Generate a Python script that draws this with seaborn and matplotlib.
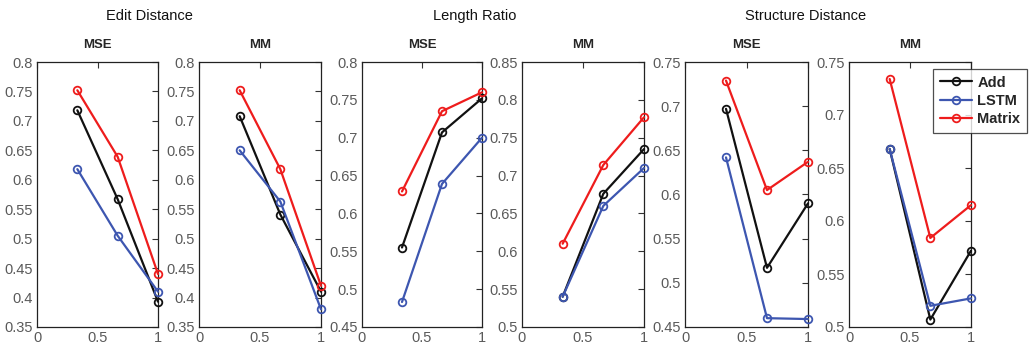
import numpy as np
import pandas as pd
import matplotlib
matplotlib.use("Agg")
import matplotlib.pyplot as plt
import seaborn as sns

# ---- data ----
x_vals = [1/3, 2/3, 1.0]
methods = ["Add", "LSTM", "Matrix"]
group_titles = ["Edit Distance", "Length Ratio", "Structure Distance"]
panel_titles = ["MSE", "MM"]

edit_mse_add = [0.718, 0.567, 0.393]
edit_mse_lstm = [0.618, 0.505, 0.410]
edit_mse_matrix = [0.752, 0.639, 0.440]

edit_mm_add = [0.708, 0.541, 0.410]
edit_mm_lstm = [0.650, 0.563, 0.380]
edit_mm_matrix = [0.752, 0.618, 0.420]

len_mse_add = [0.555, 0.707, 0.752]
len_mse_lstm = [0.483, 0.639, 0.700]
len_mse_matrix = [0.629, 0.735, 0.760]

len_mm_add = [0.540, 0.676, 0.735]
len_mm_lstm = [0.540, 0.660, 0.710]
len_mm_matrix = [0.610, 0.714, 0.777]

str_mse_add = [0.697, 0.517, 0.590]
str_mse_lstm = [0.642, 0.460, 0.459]
str_mse_matrix = [0.729, 0.605, 0.637]

str_mm_add = [0.668, 0.507, 0.572]
str_mm_lstm = [0.668, 0.520, 0.527]
str_mm_matrix = [0.734, 0.584, 0.615]

panels = [
    (edit_mse_add, edit_mse_lstm, edit_mse_matrix),
    (edit_mm_add, edit_mm_lstm, edit_mm_matrix),
    (len_mse_add, len_mse_lstm, len_mse_matrix),
    (len_mm_add, len_mm_lstm, len_mm_matrix),
    (str_mse_add, str_mse_lstm, str_mse_matrix),
    (str_mm_add, str_mm_lstm, str_mm_matrix),
]
ylims = [(0.35, 0.8), (0.35, 0.8), (0.45, 0.8), (0.5, 0.85), (0.45, 0.75), (0.5, 0.75)]
x_ticks = [0, 0.5, 1]
x_tick_labels = ["0", "0.5", "1"]

# ---- style ----
sns.set_style("white")
plt.rcParams['font.family'] = ['Liberation Sans', 'DejaVu Sans']
colors = {"Add": "#111111", "LSTM": "#3d56b0", "Matrix": "#ee1c1c"}
tick_color = "#5a5a5a"

W, H = 1034, 346
fig = plt.figure(figsize=(W / 100, H / 100), dpi=100)
lefts = [37, 199, 362, 522, 685, 849]
widths = [121, 122, 120, 122, 123, 122]
top_px, bot_px = 62, 327

axes = []
for i, (vals, yl) in enumerate(zip(panels, ylims)):
    ax = fig.add_axes([lefts[i] / W, 1 - bot_px / H, widths[i] / W, (bot_px - top_px) / H])
    rows = []
    for m, v in zip(methods, vals):
        for xx, yy in zip(x_vals, v):
            rows.append({"x": xx, "y": yy, "method": m})
    df = pd.DataFrame(rows)
    for m in methods:
        sns.lineplot(data=df[df.method == m], x="x", y="y", ax=ax, color=colors[m],
                     marker="o", markersize=5.5, markerfacecolor="none",
                     markeredgecolor=colors[m], markeredgewidth=1.3,
                     linewidth=1.6, label=m, legend=False, clip_on=False, zorder=3)
    ax.set_xlim(0, 1)
    ax.set_xticks(x_ticks)
    ax.set_xticklabels(x_tick_labels)
    ax.yaxis.set_major_locator(matplotlib.ticker.MultipleLocator(0.05))
    ax.yaxis.set_major_formatter(matplotlib.ticker.FuncFormatter(lambda v, p: ("%.2f" % v).rstrip("0").rstrip(".")))
    ax.set_ylim(*yl)
    ax.set_xlabel("")
    ax.set_ylabel("")
    ax.tick_params(direction="in", length=4, width=0.8, colors="#333333",
                   labelcolor=tick_color, labelsize=10.5, top=True, right=True,
                   labeltop=False, labelright=False, pad=3)
    for s in ax.spines.values():
        s.set_color("#222222")
        s.set_linewidth(0.9)
    ax.set_title(panel_titles[i % 2], fontsize=9.5, fontweight="bold", pad=10)
    axes.append(ax)

# group titles
group_x = [149, 475, 806]
for gx, gt in zip(group_x, group_titles):
    fig.text(gx / W, 1 - 16 / H, gt, ha="center", va="center", fontsize=10.5, color="#111111")

# legend
handles, labels = axes[-1].get_legend_handles_labels()
leg = fig.legend(handles, labels, loc="upper left",
                 bbox_to_anchor=(933 / W, 1 - 69 / H), frameon=True, fancybox=False,
                 prop={"weight": "bold", "size": 10.5}, handlelength=2.2,
                 borderpad=0.45, labelspacing=0.3, handletextpad=0.4, borderaxespad=0)
leg.get_frame().set_edgecolor("#222222")
leg.get_frame().set_linewidth(0.9)

fig.savefig("out.png", dpi=100)
